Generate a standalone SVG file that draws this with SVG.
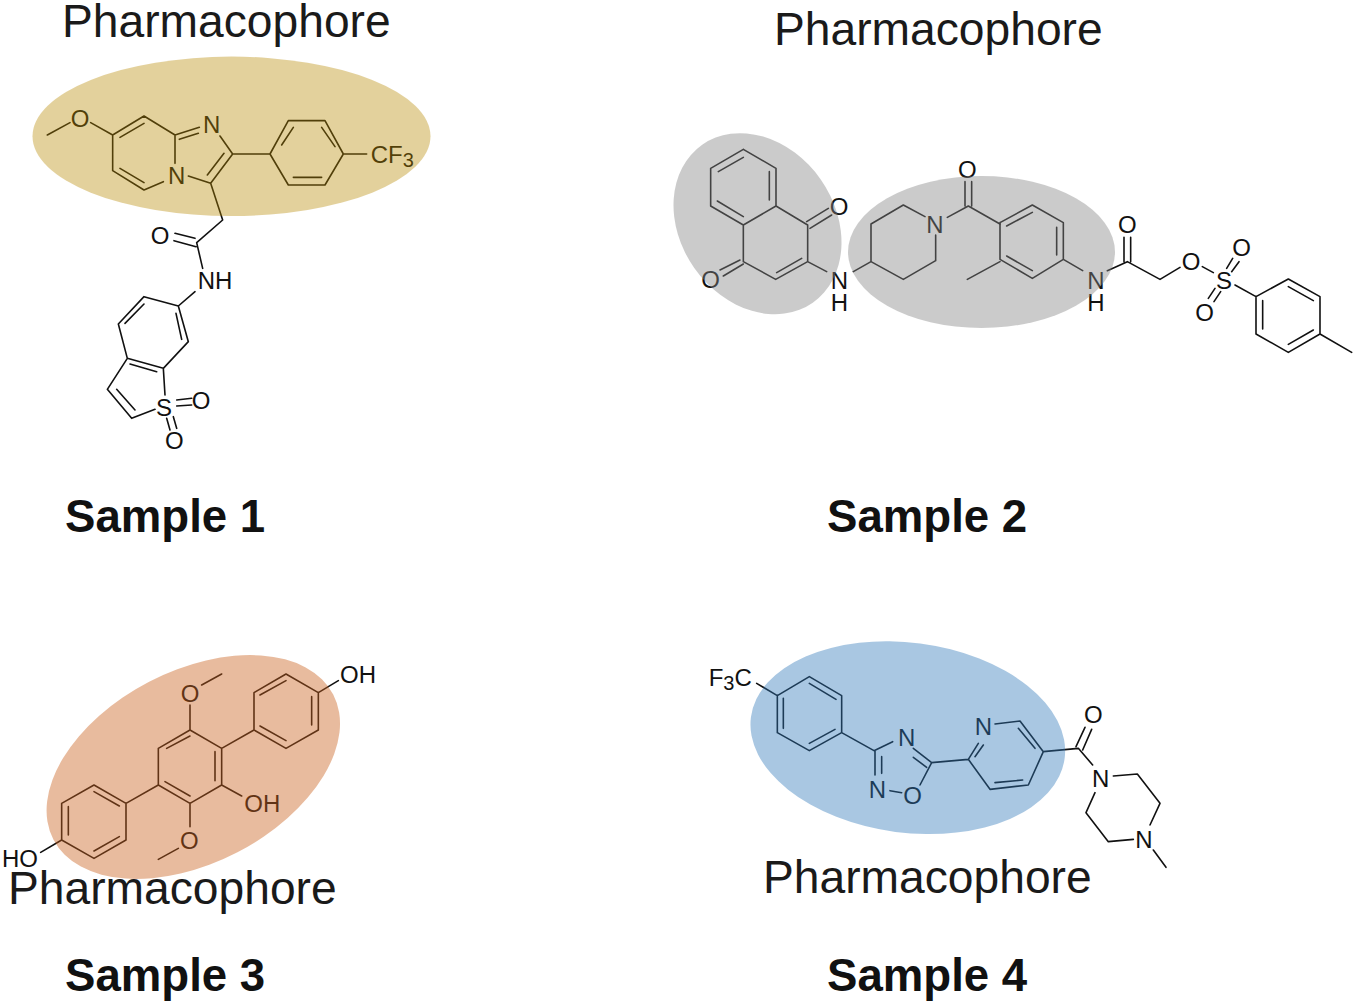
<svg xmlns="http://www.w3.org/2000/svg" width="1358" height="1007" viewBox="0 0 1358 1007">
<style>
.t{font-family:"Liberation Sans",Arial,sans-serif;font-size:46.2px;fill:#1a1a1a}
.s{font-family:"Liberation Sans",Arial,sans-serif;font-size:45.6px;font-weight:bold;fill:#111}
.m{fill:none;stroke:#111;stroke-width:4.8;stroke-linecap:round;stroke-linejoin:round}
.a{font-family:"Liberation Sans",Arial,sans-serif;font-size:72px;fill:#111;text-anchor:middle}
.l{font-family:"Liberation Sans",Arial,sans-serif;font-size:72px;fill:#111}
.u{font-size:60px}
</style>
<rect width="1358" height="1007" fill="#fff"/>
<g id="sample1">
<text class="t" x="62" y="37">Pharmacophore</text>
<g transform="translate(20,50) scale(.33333)">
<path class="m" d="M82 255L150 218M212 218L278 255L372 198L465 255L465 340M430 395L372 420L278 362L278 255M300 262L372 220M300 355L372 398M465 255L538 232M478 268L535 250M600 258L638 312L572 400L505 378M612 310L562 375M572 400L608 510L530 578L548 655M525 565L465 550M528 590L462 572M525 725L475 768L372 740L295 822L322 925L430 955L505 875L475 768M372 762L315 820M468 790L485 868M330 942L410 965M322 925L262 1018L335 1105L405 1078M430 955L435 1035M290 1018L345 1080M470 1050L515 1045M470 1068L515 1065M440 1105L450 1140M460 1100L470 1135M638 312L750 312L805 212L915 212L970 312L915 405L805 405L750 312M785 285L820 232M905 232L945 290M820 382L905 382M970 312L1040 312"/>
<text class="a" x="180" y="231">O</text><text class="a" x="575" y="248">N</text><text class="a" x="470" y="401">N</text>
<text class="a" x="420" y="583">O</text><text class="a" x="585" y="718">NH</text><text class="a" x="432" y="1098">S</text>
<text class="a" x="543" y="1078">O</text><text class="a" x="463" y="1198">O</text>
<text class="l" x="1052" y="338">CF<tspan class="u" dy="14">3</tspan></text>
</g>
<ellipse cx="231.5" cy="136.3" rx="199" ry="79.7" fill="#b78900" fill-opacity=".39"/>
<text class="s" x="65" y="532">Sample 1</text>
</g>
<g id="sample2">
<text class="t" x="774" y="45">Pharmacophore</text>
<g transform="translate(660,120) scale(.33333)">
<path class="m" d="M250 88L348 145L348 258L250 315L152 258L152 145L250 88M175 155L250 112M328 155L328 240M172 243L250 290M348 258L443 315L443 425L347 478L250 425L250 315M350 458L425 415M440 305L505 265M450 325L515 285M240 420L180 450M250 432L190 468M443 425L500 455M580 455L633 425L633 312L730 255L795 290M827 345L827 422L730 478L633 425M862 292L925 258L1020 312M915 258L915 185M935 258L935 185M1020 425L922 478"/>
<text class="a" x="537" y="284">O</text><text class="a" x="152" y="504">O</text><text class="a" x="538" y="506">N</text><text class="a" x="538" y="572">H</text>
<text class="a" x="825" y="338">N</text><text class="a" x="922" y="173">O</text>
</g>
<g transform="translate(1000,150) scale(.33333)">
<path class="m" d="M0 218L97 165L190 218L190 328L97 385L0 328L0 218M20 228L97 187M170 232L170 315M20 318L97 362M190 328L248 362M322 362L382 335L480 388L540 352M372 335L372 262M392 335L392 262M607 350L640 368M680 355L698 325M695 365L717 335M625 445L645 415M642 455L662 425M705 405L768 440L865 387L960 440L960 552L865 607L768 552L768 440M788 452L788 537M865 410L940 452M865 583L940 540M960 552L1055 607"/>
<text class="a" x="288" y="416">N</text><text class="a" x="288" y="482">H</text><text class="a" x="382" y="249">O</text><text class="a" x="573" y="361">O</text>
<text class="a" x="672" y="418">S</text><text class="a" x="725" y="318">O</text><text class="a" x="614" y="513">O</text>
</g>
<ellipse transform="rotate(55 757.5 223.7)" cx="757.5" cy="223.7" rx="96.4" ry="77.2" fill="#878787" fill-opacity=".43"/>
<ellipse cx="981.5" cy="252" rx="133.5" ry="76" fill="#878787" fill-opacity=".43"/>
<text class="s" x="827" y="532">Sample 2</text>
</g>
<g id="sample3">
<text class="t" x="8" y="904">Pharmacophore</text>
<g transform="translate(0,650) scale(.33333)">
<path class="m" d="M570 240L665 295L665 405L570 460L475 405L475 295L570 240M500 295L570 258M645 305L645 392M495 395L570 438M570 240L570 165M605 105L665 72M665 295L762 240L762 128L858 72L955 128L955 240L858 295L762 240M780 135L858 92M935 140L935 225M780 228L858 272M955 128L1015 92M665 405L725 438M570 460L570 530M535 595L475 628M475 405L378 460L282 405L185 460L185 570L282 625L378 570L378 460M282 425L358 468M205 470L205 555M282 603L358 560M185 570L122 607"/>
<text class="a" x="570" y="156">O</text><text class="a" x="568" y="598">O</text>
<text class="l" x="1020" y="100">OH</text><text class="l" x="733" y="487">OH</text><text class="l" x="6" y="652">HO</text>
</g>
<ellipse transform="rotate(-27.4 193.3 767)" cx="193.3" cy="767" rx="157.6" ry="96" fill="#ca621e" fill-opacity=".43"/>
<text class="s" x="65" y="991">Sample 3</text>
</g>
<g id="sample4">
<text class="t" x="763" y="893">Pharmacophore</text>
<g transform="translate(700,640) scale(.33333)">
<path class="m" d="M170 130L232 167L328 110L425 167L425 278L328 332L232 278L232 167M250 175L250 265M328 130L408 178M328 310L405 268M425 278L522 332L578 305M640 325L695 368L660 435M640 352L680 382M605 458L570 452M525 332L525 405M545 350L545 400M695 368L805 358L870 448L985 435L1030 335L960 243L885 252M805 358L835 310M825 350L850 315M885 428L968 420M955 265L1005 325M1030 335L1135 325L1178 375M1128 320L1155 262M1148 330L1175 268M1240 408L1312 402L1380 490L1350 555M1300 598L1225 605L1158 518L1185 458M1360 630L1398 682"/>
<text class="l" x="26" y="137">F<tspan class="u" dy="14">3</tspan><tspan dy="-14">C</tspan></text>
<text class="a" x="620" y="318">N</text><text class="a" x="532" y="473">N</text><text class="a" x="638" y="491">O</text><text class="a" x="850" y="284">N</text>
<text class="a" x="1180" y="248">O</text><text class="a" x="1202" y="441">N</text><text class="a" x="1332" y="623">N</text>
</g>
<ellipse transform="rotate(7.5 907.8 737.7)" cx="907.8" cy="737.7" rx="158.2" ry="95" fill="#3078b9" fill-opacity=".415"/>
<text class="s" x="827" y="991">Sample 4</text>
</g>
</svg>
